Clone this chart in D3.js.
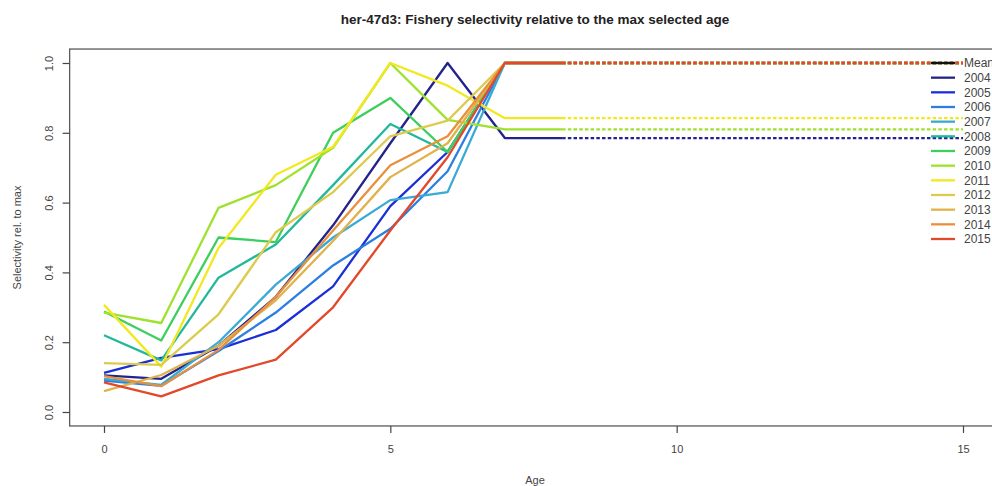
<!DOCTYPE html>
<html>
<head>
<meta charset="utf-8">
<script src="https://cdn.jsdelivr.net/npm/d3@7"></script>
<style>
  html, body { margin: 0; padding: 0; background: #fff; }
  svg { display: block; font-family: "Liberation Sans", Arial, sans-serif; }
</style>
</head>
<body>
<svg id="chart" width="992" height="486"></svg>
<script>
// Ages 0..15; solid up to age 8, dotted plus-group continuation beyond
const ages = [0, 1, 2, 3, 4, 5, 6, 7, 8, 9, 10, 11, 12, 13, 14, 15];
const solidMaxAge = 8;

const years = ["2004", "2005", "2006", "2007", "2008", "2009", "2010", "2011", "2012", "2013", "2014", "2015"];

const sel2004 = [0.105, 0.095, 0.19, 0.33, 0.535, 0.77, 1.0, 0.785, 0.785, 0.785, 0.785, 0.785, 0.785, 0.785, 0.785, 0.785];
const sel2005 = [0.112, 0.155, 0.18, 0.235, 0.36, 0.59, 0.745, 1.0, 1.0, 1.0, 1.0, 1.0, 1.0, 1.0, 1.0, 1.0];
const sel2006 = [0.09, 0.075, 0.175, 0.285, 0.42, 0.525, 0.69, 1.0, 1.0, 1.0, 1.0, 1.0, 1.0, 1.0, 1.0, 1.0];
const sel2007 = [0.095, 0.078, 0.2, 0.365, 0.5, 0.607, 0.63, 1.0, 1.0, 1.0, 1.0, 1.0, 1.0, 1.0, 1.0, 1.0];
const sel2008 = [0.22, 0.148, 0.385, 0.48, 0.65, 0.825, 0.745, 1.0, 1.0, 1.0, 1.0, 1.0, 1.0, 1.0, 1.0, 1.0];
const sel2009 = [0.288, 0.205, 0.5, 0.487, 0.8, 0.9, 0.745, 1.0, 1.0, 1.0, 1.0, 1.0, 1.0, 1.0, 1.0, 1.0];
const sel2010 = [0.285, 0.255, 0.585, 0.65, 0.757, 1.0, 0.837, 0.81, 0.81, 0.81, 0.81, 0.81, 0.81, 0.81, 0.81, 0.81];
const sel2011 = [0.307, 0.13, 0.47, 0.68, 0.76, 1.0, 0.935, 0.842, 0.842, 0.842, 0.842, 0.842, 0.842, 0.842, 0.842, 0.842];
const sel2012 = [0.14, 0.135, 0.28, 0.515, 0.63, 0.79, 0.835, 1.0, 1.0, 1.0, 1.0, 1.0, 1.0, 1.0, 1.0, 1.0];
const sel2013 = [0.06, 0.106, 0.19, 0.32, 0.49, 0.673, 0.77, 1.0, 1.0, 1.0, 1.0, 1.0, 1.0, 1.0, 1.0, 1.0];
const sel2014 = [0.103, 0.074, 0.178, 0.33, 0.52, 0.707, 0.79, 1.0, 1.0, 1.0, 1.0, 1.0, 1.0, 1.0, 1.0, 1.0];
const sel2015 = [0.085, 0.045, 0.105, 0.15, 0.30, 0.52, 0.73, 1.0, 1.0, 1.0, 1.0, 1.0, 1.0, 1.0, 1.0, 1.0];

const seriesValues = [sel2004, sel2005, sel2006, sel2007, sel2008, sel2009, sel2010, sel2011, sel2012, sel2013, sel2014, sel2015];

const yearColors = ["#22238c", "#1b2fd6", "#2b7fe0", "#3aa9d6", "#22b89b", "#3ccf5c",
                    "#9ee22c", "#f2e820", "#dccb4e", "#e0b24c", "#e8903c", "#e2482a"];

const legendLabels = ["Mean"].concat(years);
const legendColors = ["#111111"].concat(yearColors);

const xTicks = [0, 5, 10, 15];
const yTicks = [0.0, 0.2, 0.4, 0.6, 0.8, 1.0];

const titleText = "her-47d3: Fishery selectivity relative to the max selected age";
const xTitle = "Age";
const yTitle = "Selectivity rel. to max";

// ---- layout ----
const svg = d3.select("#chart");
const x = d3.scaleLinear().domain([0, 15]).range([104, 963]);
const y = d3.scaleLinear().domain([0, 1]).range([412, 63]);

// plot frame (R-style 4% padding around the data range)
const fx0 = x(-0.6), fx1 = x(15.6), fy0 = y(1.04), fy1 = y(-0.04);

const series = years.map((yr, i) => ({
  year: yr,
  color: yearColors[i],
  points: ages.map((a, j) => ({ age: a, v: seriesValues[i][j] }))
}));

const line = d3.line().x(d => x(d.age)).y(d => y(d.v));

const lines = svg.append("g").attr("fill", "none").attr("stroke-linejoin", "round");
series.forEach(s => {
  lines.append("path")
    .attr("d", line(s.points.filter(p => p.age <= solidMaxAge)))
    .attr("stroke", s.color)
    .attr("stroke-width", 2.3);
  lines.append("path")
    .attr("d", line(s.points.filter(p => p.age >= solidMaxAge)))
    .attr("stroke", s.color)
    .attr("stroke-width", 2.3)
    .attr("stroke-dasharray", "3.5,2.2");
});

// frame
svg.append("rect")
  .attr("x", fx0).attr("y", fy0)
  .attr("width", fx1 - fx0).attr("height", fy1 - fy0)
  .attr("fill", "none").attr("stroke", "#5a5a5a").attr("stroke-width", 1.3);

// x axis
const xAxis = svg.append("g")
  .attr("transform", `translate(0,${fy1})`)
  .call(d3.axisBottom(x).tickValues(xTicks).tickFormat(d3.format("d")).tickSizeOuter(0).tickSizeInner(7).tickPadding(12));
xAxis.select(".domain").remove();
xAxis.selectAll("line").attr("stroke", "#444").attr("stroke-width", 1.2);
xAxis.selectAll("text").attr("fill", "#444").attr("font-size", 11)
  .attr("font-family", "'Liberation Sans', Arial, sans-serif");

// y axis
const yAxis = svg.append("g")
  .attr("transform", `translate(${fx0},0)`)
  .call(d3.axisLeft(y).tickValues(yTicks).tickFormat(d3.format(".1f")).tickSizeOuter(0).tickSizeInner(7));
yAxis.select(".domain").remove();
yAxis.selectAll("line").attr("stroke", "#444").attr("stroke-width", 1.2);
yAxis.selectAll("text")
  .attr("fill", "#444").attr("font-size", 11)
  .attr("font-family", "'Liberation Sans', Arial, sans-serif")
  .attr("x", null).attr("dy", null)
  .attr("text-anchor", "middle")
  .attr("transform", "translate(-20,0) rotate(-90)")
  .attr("dy", "0.35em");

// titles
svg.append("text")
  .attr("x", 535).attr("y", 24)
  .attr("text-anchor", "middle")
  .attr("font-size", 13.5).attr("font-weight", "bold").attr("fill", "#222")
  .text(titleText);

svg.append("text")
  .attr("x", 535).attr("y", 484)
  .attr("text-anchor", "middle")
  .attr("font-size", 11).attr("fill", "#444")
  .text(xTitle);

svg.append("text")
  .attr("transform", `translate(21,${(fy0 + fy1) / 2}) rotate(-90)`)
  .attr("text-anchor", "middle")
  .attr("font-size", 11).attr("fill", "#444")
  .text(yTitle);

// legend
const legend = svg.append("g");
const legY = d3.scalePoint().domain(legendLabels).range([63, 239]);
legendLabels.forEach((lab, i) => {
  const yy = legY(lab);
  legend.append("line")
    .attr("x1", 931).attr("x2", 955).attr("y1", yy).attr("y2", yy)
    .attr("stroke", legendColors[i]).attr("stroke-width", 2.3);
  legend.append("text")
    .attr("x", 964).attr("y", yy).attr("dy", "0.35em")
    .attr("font-size", 12).attr("fill", "#444")
    .text(lab);
});
</script>
</body>
</html>
